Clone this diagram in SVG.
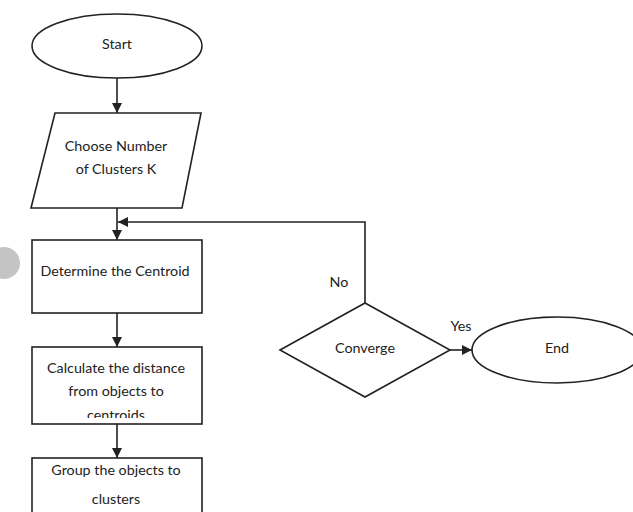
<svg xmlns="http://www.w3.org/2000/svg" width="633" height="512" viewBox="0 0 633 512">
<style>
.s{fill:#fff;stroke:#222;stroke-width:1.6}
.t{font-family:Lato,"Open Sans",sans-serif;font-size:14.3px;fill:#222;text-anchor:middle;dominant-baseline:central}
.c{fill:none;stroke:#222;stroke-width:1.6}
</style>
<defs>
<marker id="b" viewBox="0 0 10 10" refX="10" refY="5" markerWidth="10" markerHeight="10" orient="auto" markerUnits="userSpaceOnUse"><path d="M0,0L10,5L0,10z" fill="#222"/></marker>
<clipPath id="cc"><rect x="32" y="347" width="170" height="71"/></clipPath>
</defs>
<rect width="633" height="512" fill="#fff"/>
<circle cx="4" cy="263" r="16" fill="#c4c4c4"/>
<g id="connectors">
<line class="c" x1="117" y1="78" x2="117" y2="113" marker-end="url(#b)"/>
<line class="c" x1="117" y1="208" x2="117" y2="240" marker-end="url(#b)"/>
<polyline class="c" points="365,303 365,222 118,222" marker-end="url(#b)"/>
<line class="c" x1="117" y1="313" x2="117" y2="347" marker-end="url(#b)"/>
<line class="c" x1="117" y1="424" x2="117" y2="458" marker-end="url(#b)"/>
<line class="c" x1="450" y1="350" x2="472" y2="350" marker-end="url(#b)"/>
<text class="t" x="339" y="281">No</text>
<text class="t" x="461" y="325">Yes</text>
</g>
<g id="start"><ellipse class="s" cx="117" cy="46" rx="85" ry="32"/><text class="t" x="117" y="43">Start</text></g>
<g id="choose"><polygon class="s" points="55,113 201,113 182,208 31,208"/><text class="t" x="116" y="145">Choose Number</text><text class="t" x="116" y="168">of Clusters K</text></g>
<g id="determine"><rect class="s" x="32" y="240" width="170" height="73"/><text class="t" x="115" y="270">Determine the Centroid</text></g>
<g id="calculate"><rect class="s" x="32" y="347" width="170" height="77"/><g clip-path="url(#cc)"><text class="t" x="116" y="367">Calculate the distance</text><text class="t" x="116" y="390">from objects to</text><text class="t" x="116" y="414">centroids</text></g></g>
<g id="group"><rect class="s" x="32" y="458" width="170" height="70"/><text class="t" x="116" y="469">Group the objects to</text><text class="t" x="116" y="498">clusters</text></g>
<g id="converge"><polygon class="s" points="280,350 365,303 450,350 365,397"/><text class="t" x="365" y="347">Converge</text></g>
<g id="end"><ellipse class="s" cx="557" cy="350" rx="85" ry="33"/><text class="t" x="557" y="347">End</text></g>
</svg>
